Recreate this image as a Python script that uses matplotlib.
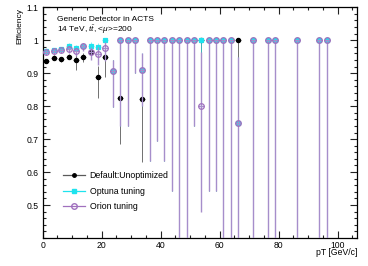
import numpy as np
import matplotlib
matplotlib.use("Agg")
import matplotlib.pyplot as plt
from matplotlib.ticker import MultipleLocator, FixedLocator
from matplotlib.lines import Line2D

plt.rcParams['font.family'] = ['Liberation Sans', 'DejaVu Sans']
plt.rcParams['mathtext.fontset'] = 'custom'
plt.rcParams['mathtext.rm'] = 'Liberation Sans'
plt.rcParams['mathtext.it'] = 'Liberation Sans:italic'

# ---- data (bin centres in GeV/c) ----
pt = [1.25, 3.75, 6.25, 8.75, 11.25, 13.75, 16.25, 18.75, 21.25, 23.75,
      26.25, 28.75, 31.25, 33.75, 36.25, 38.75, 41.25, 43.75, 46.25, 48.75,
      51.25, 53.75, 56.25, 58.75, 61.25, 63.75, 66.25, 71.25, 76.25, 78.75,
      86.25, 93.75, 96.25]

# Default: Unoptimized
default_eff = [0.937, 0.947, 0.942, 0.950, 0.940, 0.950, 0.964, 0.889, 0.950, 0.906,
               0.824, 1.0, 1.0, 0.821, 1.0, 1.0, 1.0, 1.0, 1.0, 1.0,
               1.0, 1.0, 1.0, 1.0, 1.0, 1.0, 1.0, 1.0, 1.0, 1.0,
               1.0, 1.0, 1.0]
default_lo = [0.930, 0.940, 0.933, 0.942, 0.911, 0.935, 0.946, 0.824, 0.889, 0.796,
              0.685, 0.74, 0.90, 0.630, 0.634, 0.695, 0.634, 0.544, 0.159, 0.159,
              0.74, 0.80, 0.544, 0.544, 0.159, 0.159, 0.159, 0.159, 0.159, 0.159,
              0.159, 0.159, 0.159]
default_hi = [0.944, 0.954, 0.950, 0.957, 0.957, 0.962, 0.978, 0.921, 0.967, 0.94,
              0.93, 1.0, 1.0, 0.90, 1.0, 1.0, 1.0, 1.0, 1.0, 1.0,
              1.0, 1.0, 1.0, 1.0, 1.0, 1.0, 1.0, 1.0, 1.0, 1.0,
              1.0, 1.0, 1.0]

# Optuna tuning
optuna_eff = [0.967, 0.970, 0.972, 0.984, 0.975, 0.982, 0.984, 0.980, 1.0, 0.906,
              1.0, 1.0, 1.0, 0.910, 1.0, 1.0, 1.0, 1.0, 1.0, 1.0,
              1.0, 1.0, 1.0, 1.0, 1.0, 1.0, 0.750, 1.0, 1.0, 1.0,
              1.0, 1.0, 1.0]
optuna_lo = [0.958, 0.962, 0.963, 0.975, 0.962, 0.970, 0.970, 0.960, 0.950, 0.796,
             0.74, 0.74, 0.90, 0.80, 0.634, 0.695, 0.634, 0.544, 0.159, 0.159,
             0.74, 0.80, 0.544, 0.544, 0.159, 0.159, 0.20, 0.159, 0.159, 0.159,
             0.159, 0.159, 0.159]
optuna_hi = [0.975, 0.977, 0.979, 0.992, 0.986, 0.992, 0.994, 0.993, 1.0, 0.94,
             1.0, 1.0, 1.0, 0.96, 1.0, 1.0, 1.0, 1.0, 1.0, 1.0,
             1.0, 1.0, 1.0, 1.0, 1.0, 1.0, 0.95, 1.0, 1.0, 1.0,
             1.0, 1.0, 1.0]

# Orion tuning
orion_eff = [0.965, 0.968, 0.970, 0.974, 0.967, 0.982, 0.965, 0.957, 0.975, 0.906,
             1.0, 1.0, 1.0, 0.910, 1.0, 1.0, 1.0, 1.0, 1.0, 1.0,
             1.0, 0.800, 1.0, 1.0, 1.0, 1.0, 0.750, 1.0, 1.0, 1.0,
             1.0, 1.0, 1.0]
orion_lo = [0.956, 0.959, 0.961, 0.962, 0.952, 0.968, 0.940, 0.925, 0.937, 0.796,
            0.74, 0.74, 0.90, 0.80, 0.634, 0.695, 0.634, 0.544, 0.159, 0.159,
            0.74, 0.48, 0.544, 0.544, 0.159, 0.159, 0.20, 0.159, 0.159, 0.159,
            0.159, 0.159, 0.159]
orion_hi = [0.973, 0.976, 0.978, 0.984, 0.978, 0.992, 0.980, 0.980, 0.995, 0.94,
            1.0, 1.0, 1.0, 0.96, 1.0, 1.0, 1.0, 1.0, 1.0, 1.0,
            1.0, 0.965, 1.0, 1.0, 1.0, 1.0, 0.95, 1.0, 1.0, 1.0,
            1.0, 1.0, 1.0]

labels = ["Default:Unoptimized", "Optuna tuning", "Orion tuning"]
x_ticks = [0, 20, 40, 60, 80, 100]
y_ticks = [0.5, 0.6, 0.7, 0.8, 0.9, 1.0, 1.1]
y_tick_labels = ["0.5", "0.6", "0.7", "0.8", "0.9", "1", "1.1"]

# ---- figure ----
W, H = 368, 266
fig = plt.figure(figsize=(W / 100, H / 100), dpi=100)
ax = fig.add_axes([42.7 / W, 1 - 238 / H, (357.3 - 42.7) / W, (238 - 7.3) / H])

col_def = '#000000'
col_def_line = '#5a5a5a'
col_opt = '#1ee3ee'
col_ori = '#a070be'
col_ori_line = '#a68ecb'

def draw(eff, lo, hi, lcolor, marker, ms, mfc, mec, lw, z):
    eff = np.array(eff)
    yerr = np.vstack([eff - np.array(lo), np.array(hi) - eff])
    ax.errorbar(pt, eff, yerr=yerr, xerr=1.0, fmt='none', ecolor=lcolor,
                elinewidth=lw, capsize=0, zorder=z)
    ax.plot(pt, eff, linestyle='none', marker=marker, ms=ms, mfc=mfc,
            mec=mec, mew=0.9, zorder=z + 0.5)

draw(default_eff, default_lo, default_hi, col_def_line, 'o', 3.0,
     col_def, col_def, 0.6, 2)
draw(optuna_eff, optuna_lo, optuna_hi, col_opt, 's', 3.0,
     col_opt, col_opt, 0.4, 3)
draw(orion_eff, orion_lo, orion_hi, col_ori_line, 'o', 4.0,
     'none', col_ori, 1.0, 4)

ax.set_xlim(0, 106.65)
ax.set_ylim(0.4, 1.1)

ax.xaxis.set_major_locator(FixedLocator(x_ticks))
ax.xaxis.set_minor_locator(MultipleLocator(5))
ax.yaxis.set_major_locator(FixedLocator(y_ticks))
ax.set_yticklabels(y_tick_labels)
ax.yaxis.set_minor_locator(MultipleLocator(0.02))
ax.tick_params(which='both', direction='in', top=True, right=True,
               labelsize=6.2, width=0.8, colors='#222222', labelcolor='black')
ax.tick_params(which='major', length=5)
ax.tick_params(which='minor', length=2.5)
ax.tick_params(axis='y', pad=3)
ax.tick_params(axis='x', pad=1.8)
for s in ax.spines.values():
    s.set_linewidth(0.9)

fig.text(20 / W, 1 - 7.5 / H, "Efficiency", rotation=90, ha='center', va='top',
         fontsize=6)
fig.text(357.3 / W, 1 - 248 / H, "pT [GeV/c]", ha='right', va='top',
         fontsize=6.2)

ax.text(0.0445, 0.945, "Generic Detector in ACTS", transform=ax.transAxes,
        ha='left', va='center', fontsize=6)
ax.text(0.0445, 0.902, r"14 TeV, $t\bar{t}$, <$\mu$>=200", transform=ax.transAxes,
        ha='left', va='center', fontsize=6)

handles = [
    Line2D([], [], color=col_def_line, lw=0.9, marker='o', ms=2.5,
           mfc=col_def, mec=col_def),
    Line2D([], [], color=col_opt, lw=0.9, marker='s', ms=2.5,
           mfc=col_opt, mec=col_opt),
    Line2D([], [], color=col_ori, lw=0.9, marker='o', ms=4,
           mfc='none', mec=col_ori),
]
leg = ax.legend(handles, labels, loc='upper left',
                bbox_to_anchor=((63 - 42.7) / (357.3 - 42.7), (238 - 171.5) / (238 - 7.3)),
                frameon=False, fontsize=6.3, borderpad=0, borderaxespad=0,
                handlelength=2.55, handletextpad=0.5, labelspacing=0.7)

fig.savefig("out.png", dpi=100)
